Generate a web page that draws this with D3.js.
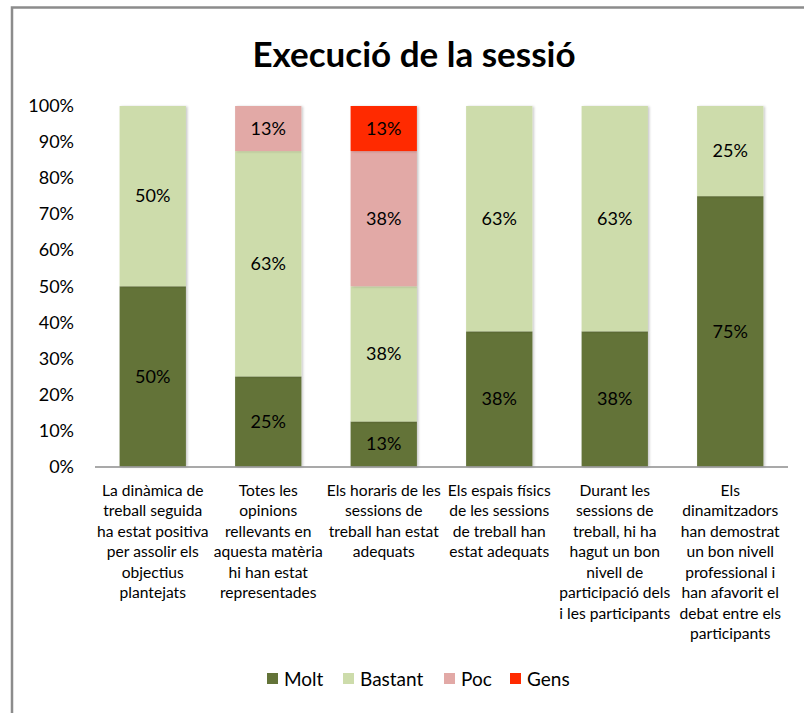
<!DOCTYPE html>
<html>
<head>
<meta charset="utf-8">
<script src="https://cdn.jsdelivr.net/npm/d3@7"></script>
<style>
  body { margin: 0; background: #fff; }
  text { font-family: Lato, "Open Sans", sans-serif; fill: #000; }
</style>
</head>
<body>
<svg id="chart" width="804" height="713"></svg>
<script>
// DATA
const categories = [
  ["La dinàmica de", "treball seguida", "ha estat positiva", "per assolir els", "objectius", "plantejats"],
  ["Totes les", "opinions", "rellevants en", "aquesta matèria", "hi han estat", "representades"],
  ["Els horaris de les", "sessions de", "treball han estat", "adequats"],
  ["Els espais físics", "de les sessions", "de treball han", "estat adequats"],
  ["Durant les", "sessions de", "treball, hi ha", "hagut un bon", "nivell de", "participació dels", "i les participants"],
  ["Els", "dinamitzadors", "han demostrat", "un bon nivell", "professional i", "han afavorit el", "debat entre els", "participants"]
];
const seriesNames = ["Molt", "Bastant", "Poc", "Gens"];
const molt = [0.5, 0.25, 0.125, 0.375, 0.375, 0.75];
const bastant = [0.5, 0.625, 0.375, 0.625, 0.625, 0.25];
const poc = [0, 0.125, 0.375, 0, 0, 0];
const gens = [0, 0, 0.125, 0, 0, 0];
const yTicks = [0, 0.1, 0.2, 0.3, 0.4, 0.5, 0.6, 0.7, 0.8, 0.9, 1];
const colors = ["#637338", "#cddcab", "#e2a9a6", "#ff2a00"];

// CANVAS SETUP
const svg = d3.select("#chart");
const margin = { top: 106, right: 16, bottom: 246.5, left: 95 };
const width = 804 - margin.left - margin.right,
  height = 713 - margin.top - margin.bottom;

// outer frame
svg.append("rect")
  .attr("x", 12).attr("y", 7.5)
  .attr("width", 820).attr("height", 740)
  .attr("fill", "none")
  .attr("stroke", "#8c8c8c")
  .attr("stroke-width", 2.5);

svg.append("text")
  .attr("x", 414).attr("y", 67)
  .attr("text-anchor", "middle")
  .style("font-size", "35px")
  .style("font-weight", "bold")
  .text("Execució de la sessió");

const defs = svg.append("defs");
const shadow = defs.append("filter").attr("id", "shadow")
  .attr("x", "-10%").attr("y", "-5%").attr("width", "130%").attr("height", "115%");
shadow.append("feDropShadow")
  .attr("dx", 1.5).attr("dy", 0.5).attr("stdDeviation", 1.2)
  .attr("flood-color", "#000").attr("flood-opacity", 0.22);

const g = svg.append("g").attr("transform", `translate(${margin.left},${margin.top})`);

// DATA MANIPULATE
const rows = categories.map((c, i) => ({
  idx: i, Molt: molt[i], Bastant: bastant[i], Poc: poc[i], Gens: gens[i]
}));
const stacked = d3.stack().keys(seriesNames)(rows);

// SCALES
const xScale = d3.scaleBand()
  .domain(d3.range(categories.length))
  .range([0, width])
  .paddingInner(0.426)
  .paddingOuter(0.213);

const yScale = d3.scaleLinear().domain([0, 1]).range([height, 0]);
const colorScale = d3.scaleOrdinal().domain(seriesNames).range(colors);

// Y AXIS
const gy = g.append("g")
  .call(d3.axisLeft(yScale).tickValues(yTicks).tickFormat(d3.format(".0%")).tickSize(0).tickPadding(21))
  .call((a) => a.select(".domain").remove());
gy.selectAll("text")
  .style("font-size", "18px")
  .style("font-family", "Lato, sans-serif");

// BARS
const layers = g.append("g").selectAll("g")
  .data(stacked)
  .join("g")
  .attr("fill", (d) => colorScale(d.key));

layers.selectAll("rect")
  .data((d) => d.filter((p) => p[1] - p[0] > 0))
  .join("rect")
  .attr("x", (d) => xScale(d.data.idx))
  .attr("y", (d) => yScale(d[1]))
  .attr("width", xScale.bandwidth())
  .attr("height", (d) => yScale(d[0]) - yScale(d[1]))
  .attr("filter", "url(#shadow)");

layers.selectAll("text.val")
  .data((d) => d.filter((p) => p[1] - p[0] > 0))
  .join("text")
  .attr("class", "val")
  .attr("x", (d) => xScale(d.data.idx) + xScale.bandwidth() / 2)
  .attr("y", (d) => yScale((d[0] + d[1]) / 2))
  .attr("dy", "0.35em")
  .attr("text-anchor", "middle")
  .style("font-size", "18px")
  .text((d) => d3.format(".0%")(d[1] - d[0]));

// X AXIS
g.append("line")
  .attr("x1", 0).attr("x2", width)
  .attr("y1", height + 0.5).attr("y2", height + 0.5)
  .attr("stroke", "#8c8c8c")
  .attr("stroke-width", 1.5);

const gx = g.append("g").attr("transform", `translate(0,${height})`);
gx.selectAll("text")
  .data(categories)
  .join("text")
  .attr("x", (d, i) => xScale(i) + xScale.bandwidth() / 2)
  .attr("y", 29)
  .attr("text-anchor", "middle")
  .style("font-size", "15.6px")
  .selectAll("tspan")
  .data((d) => d)
  .join("tspan")
  .attr("x", function () { return this.parentNode.getAttribute("x"); })
  .attr("dy", (d, i) => (i === 0 ? 0 : 20.5))
  .text((d) => d);

// LEGEND
const legendX = [267, 343, 444, 510];
const legend = svg.append("g").selectAll("g")
  .data(seriesNames)
  .join("g")
  .attr("transform", (d, i) => `translate(${legendX[i]},673)`);
legend.append("rect")
  .attr("width", 11).attr("height", 11)
  .attr("fill", (d) => colorScale(d));
legend.append("text")
  .attr("x", 17).attr("y", 12.5)
  .style("font-size", "19px")
  .text((d) => d);
</script>
</body>
</html>
